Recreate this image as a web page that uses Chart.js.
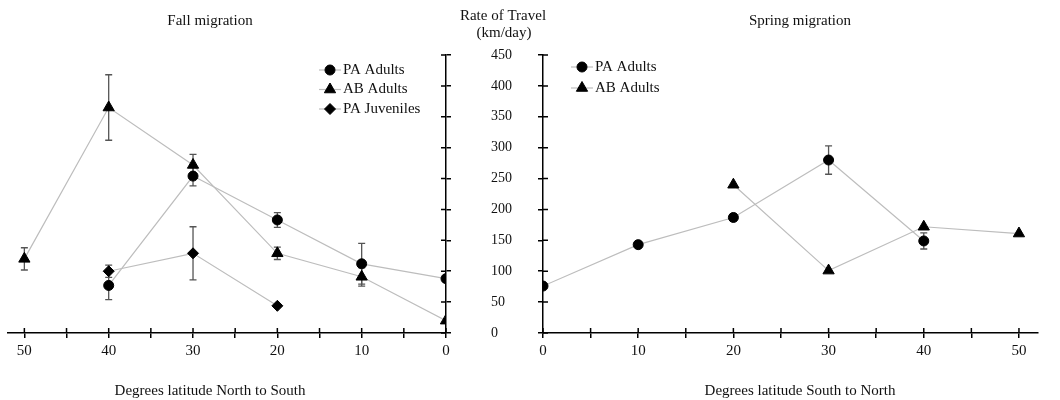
<!DOCTYPE html>
<html>
<head>
<meta charset="utf-8">
<title>Rate of Travel</title>
<script src="https://cdn.jsdelivr.net/npm/chart.js@4.4.0/dist/chart.umd.min.js"></script>
<style>
  body { margin: 0; background: #fff; }
  #wrap { position: relative; width: 1060px; height: 400px; }
  canvas { position: absolute; top: 0; }
  #fall { left: 0; }
  #spring { left: 440px; }
</style>
</head>
<body>
<div id="wrap">
  <canvas id="fall" width="470" height="400" style="width:470px;height:400px"></canvas>
  <canvas id="spring" width="620" height="400" style="width:620px;height:400px"></canvas>
</div>
<script>
// Fall migration (North to South)
var fallLat = [50, 40, 30, 20, 10, 0];
var fallPAAdults = [null, 77, 254, 183, 112, 88];
var fallPAAdultsErr = [null, 23, 16, 12, 33, 0];
var fallABAdults = [120, 365, 272, 129, 91, 20];
var fallABAdultsErr = [18, 53, 17, 10, 15, 0];
var fallPAJuveniles = [null, 100, 129, 44, null, null];
var fallPAJuvenilesErr = [null, 10, 43, 0, null, null];

// Spring migration (South to North)
var springLat = [0, 10, 20, 30, 40, 50];
var springPAAdults = [76, 143, 187, 280, 149, null];
var springPAAdultsErr = [0, 0, 6, 23, 13, null];
var springABAdults = [null, null, 240, 101, 172, 161];
var springABAdultsErr = [null, null, 0, 0, 0, 0];

var seriesNames = ['PA Adults', 'AB Adults', 'PA Juveniles'];

var FONT = "'Liberation Serif', 'Times New Roman', serif";
var LINE_GREY = '#bdbdbd';

function toPoints(xs, ys, errs) {
    var pts = [];
    for (var i = 0; i < xs.length; i++) {
        if (ys[i] === null) continue;
        pts.push({ x: xs[i], y: ys[i], err: errs[i] || 0 });
    }
    return pts;
}

function series(label, xs, ys, errs, style, radius) {
    return {
        label: label,
        data: toPoints(xs, ys, errs),
        borderColor: LINE_GREY,
        borderWidth: 1.2,
        pointStyle: style,
        pointRadius: radius,
        pointHoverRadius: radius,
        pointBackgroundColor: '#000',
        pointBorderColor: '#000',
        pointBorderWidth: 1,
        tension: 0
    };
}

// draws vertical error bars from the 'err' value on each point
var errorBars = {
    id: 'errorBars',
    beforeDatasetsDraw: function (chart) {
        var ctx = chart.ctx, yScale = chart.scales.y;
        ctx.save();
        ctx.strokeStyle = '#555';
        ctx.lineWidth = 1.3;
        chart.data.datasets.forEach(function (ds, i) {
            var meta = chart.getDatasetMeta(i);
            meta.data.forEach(function (pt, j) {
                var d = ds.data[j];
                if (!d.err) return;
                var top = yScale.getPixelForValue(d.y + d.err);
                var bot = yScale.getPixelForValue(d.y - d.err);
                ctx.beginPath();
                ctx.moveTo(pt.x, top); ctx.lineTo(pt.x, bot);
                ctx.moveTo(pt.x - 3.5, top); ctx.lineTo(pt.x + 3.5, top);
                ctx.moveTo(pt.x - 3.5, bot); ctx.lineTo(pt.x + 3.5, bot);
                ctx.stroke();
            });
        });
        ctx.restore();
    }
};

// tick marks that cross the axis line (inner half; outer half is chart.js' own)
var crossTicks = {
    id: 'crossTicks',
    beforeDatasetsDraw: function (chart) {
        var ctx = chart.ctx, area = chart.chartArea;
        var xs = chart.scales.x, ys = chart.scales.y;
        ctx.save();
        ctx.strokeStyle = '#000';
        ctx.lineWidth = 1.5;
        ctx.beginPath();
        xs.ticks.forEach(function (t) {
            var px = xs.getPixelForValue(t.value);
            ctx.moveTo(px, area.bottom);
            ctx.lineTo(px, area.bottom - 5);
        });
        ys.ticks.forEach(function (t) {
            var py = ys.getPixelForValue(t.value);
            if (ys.position === 'right') {
                ctx.moveTo(area.right, py); ctx.lineTo(area.right - 5, py);
            } else {
                ctx.moveTo(area.left, py); ctx.lineTo(area.left + 5, py);
            }
        });
        ctx.stroke();
        ctx.restore();
    }
};

// legend drawn inside the plot: -marker- label
var pointLegend = {
    id: 'pointLegend',
    afterDraw: function (chart, args, opts) {
        var ctx = chart.ctx;
        ctx.save();
        ctx.font = '15px ' + FONT;
        ctx.textBaseline = 'middle';
        ctx.textAlign = 'left';
        chart.data.datasets.forEach(function (ds, i) {
            var y = opts.y + i * opts.step, x = opts.x;
            ctx.strokeStyle = LINE_GREY;
            ctx.lineWidth = 1.2;
            ctx.beginPath();
            ctx.moveTo(x - 11, y); ctx.lineTo(x + 11, y);
            ctx.stroke();
            ctx.fillStyle = '#000';
            ctx.strokeStyle = '#000';
            ctx.lineWidth = 1;
            var o = { pointStyle: ds.pointStyle, radius: ds.pointRadius, rotation: 0, borderWidth: 1 };
            Chart.helpers.drawPoint(ctx, o, x, y);
            ctx.fillStyle = '#111';
            ctx.fillText(ds.label, x + 13, y);
        });
        ctx.restore();
    }
};

// free text: panel titles and axis titles
var panelText = {
    id: 'panelText',
    afterDraw: function (chart, args, opts) {
        var ctx = chart.ctx;
        ctx.save();
        ctx.font = '15px ' + FONT;
        ctx.fillStyle = '#111';
        ctx.textAlign = 'center';
        ctx.textBaseline = 'middle';
        opts.items.forEach(function (it) {
            ctx.fillText(it.text, it.x, it.y);
        });
        ctx.restore();
    }
};

function makeOptions(cfg) {
    return {
        responsive: false,
        animation: false,
        layout: { padding: cfg.padding },
        plugins: {
            legend: { display: false },
            tooltip: { enabled: false },
            pointLegend: cfg.legend,
            panelText: { items: cfg.texts }
        },
        scales: {
            x: {
                type: 'linear',
                min: 0,
                max: 52,
                reverse: cfg.reverse,
                border: { display: true, color: '#000', width: 1.5 },
                grid: { drawOnChartArea: false, drawTicks: true, tickLength: 5, color: '#000', lineWidth: 1.5 },
                ticks: {
                    stepSize: 5,
                    includeBounds: false,
                    autoSkip: false,
                    maxRotation: 0,
                    padding: 4,
                    color: '#111',
                    font: { family: FONT, size: 15 },
                    callback: function (v) { return v % 10 === 0 ? v : ''; }
                },
                afterFit: function (s) { s.height = 67; }
            },
            y: {
                type: 'linear',
                position: cfg.yPos,
                min: 0,
                max: 450,
                border: { display: true, color: '#000', width: 1.5 },
                grid: { drawOnChartArea: false, drawTicks: true, tickLength: 5, color: '#000', lineWidth: 1.5 },
                ticks: {
                    display: cfg.yLabels,
                    stepSize: 50,
                    crossAlign: 'far',
                    color: '#111',
                    font: { family: FONT, size: 14 }
                },
                afterFit: function (s) { s.width = cfg.yWidth; }
            }
        }
    };
}

new Chart(document.getElementById('fall'), {
    type: 'line',
    data: {
        datasets: [
            series(seriesNames[0], fallLat, fallPAAdults, fallPAAdultsErr, 'circle', 5),
            series(seriesNames[1], fallLat, fallABAdults, fallABAdultsErr, 'triangle', 6.5),
            series(seriesNames[2], fallLat, fallPAJuveniles, fallPAJuvenilesErr, 'rectRot', 5.5)
        ]
    },
    options: makeOptions({
        padding: { left: 7, top: 55, right: 0, bottom: 0 },
        reverse: true,
        yPos: 'right',
        yLabels: false,
        yWidth: 24,
        legend: { x: 330, y: 70, step: 19.5 },
        texts: [
            { text: 'Fall migration', x: 210, y: 21 },
            { text: 'Degrees latitude North to South', x: 210, y: 391 }
        ]
    }),
    plugins: [errorBars, crossTicks, pointLegend, panelText]
});

new Chart(document.getElementById('spring'), {
    type: 'line',
    data: {
        datasets: [
            series(seriesNames[0], springLat, springPAAdults, springPAAdultsErr, 'circle', 5),
            series(seriesNames[1], springLat, springABAdults, springABAdultsErr, 'triangle', 6.5)
        ]
    },
    options: makeOptions({
        padding: { left: 51, top: 55, right: 22, bottom: 0 },
        reverse: false,
        yPos: 'left',
        yLabels: true,
        yWidth: 52,
        legend: { x: 142, y: 67, step: 21 },
        texts: [
            { text: 'Spring migration', x: 360, y: 21 },
            { text: 'Degrees latitude South to North', x: 360, y: 391 },
            { text: 'Rate of Travel', x: 63, y: 16 },
            { text: '(km/day)', x: 64, y: 33 }
        ]
    }),
    plugins: [errorBars, crossTicks, pointLegend, panelText]
});
</script>
</body>
</html>
